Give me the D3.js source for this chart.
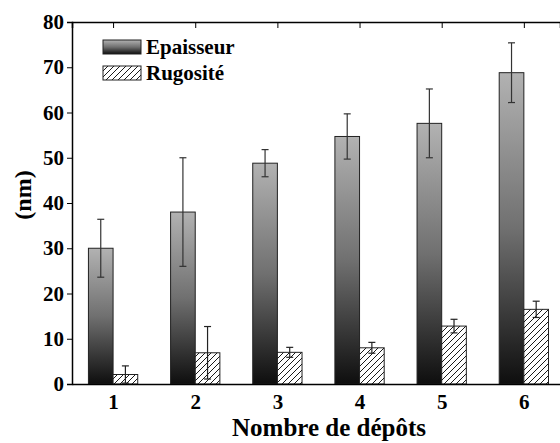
<!DOCTYPE html>
<html>
<head>
<meta charset="UTF-8">
<script src="https://d3js.org/d3.v7.min.js"></script>
<style>
  body { margin: 0; background: #fff; }
</style>
</head>
<body>
<div id="container"></div>
<script>
// data
var categories = [1, 2, 3, 4, 5, 6];
var epaisseur = [30, 38, 48.8, 54.7, 57.6, 68.8];
var epaisseurErr = [6.4, 12, 3, 5, 7.6, 6.6];
var rugosite = [2.1, 6.9, 7.0, 8.0, 12.8, 16.5];
var rugositeErr = [1.9, 5.8, 1.1, 1.2, 1.5, 1.8];
var yTicks = [0, 10, 20, 30, 40, 50, 60, 70, 80];
var seriesNames = ["Epaisseur", "Rugosité"];

var W = 560, H = 443;
var pLeft = 72, pRight = 560, pTop = 22, pBottom = 384;
var barW = 0.3; // in category units
var FONT = "'Liberation Serif', 'Times New Roman', serif";

var svg = d3.select("#container").append("svg")
  .attr("width", W).attr("height", H);

var defs = svg.append("defs");
var grad = defs.append("linearGradient").attr("id", "grey")
  .attr("x1", 0).attr("y1", 0).attr("x2", 0).attr("y2", 1);
grad.append("stop").attr("offset", "0%").attr("stop-color", "#b2b2b2");
grad.append("stop").attr("offset", "50%").attr("stop-color", "#707070");
grad.append("stop").attr("offset", "100%").attr("stop-color", "#0e0e0e");

var hatch = defs.append("pattern").attr("id", "hatch")
  .attr("patternUnits", "userSpaceOnUse")
  .attr("width", 6).attr("height", 6);
hatch.append("rect").attr("width", 6).attr("height", 6).attr("fill", "#fff");
hatch.append("path").attr("d", "M-1,7 L7,-1 M-4,4 L4,-4 M2,10 L10,2")
  .attr("stroke", "#000").attr("stroke-width", 0.9);

var x = d3.scaleLinear().domain([0.5, 6.44]).range([pLeft, pRight]);
var y = d3.scaleLinear().domain([0, 80]).range([pBottom, pTop]);

// bars
var g = svg.append("g");
g.selectAll("rect.ep").data(categories).enter().append("rect")
  .attr("class", "ep")
  .attr("x", function(d) { return x(d - barW); })
  .attr("width", function(d) { return x(d) - x(d - barW); })
  .attr("y", function(d, i) { return y(epaisseur[i]); })
  .attr("height", function(d, i) { return pBottom - y(epaisseur[i]); })
  .attr("fill", "url(#grey)").attr("stroke", "#222").attr("stroke-width", 1);

g.selectAll("rect.ru").data(categories).enter().append("rect")
  .attr("class", "ru")
  .attr("x", function(d) { return x(d); })
  .attr("width", function(d) { return x(d + barW) - x(d); })
  .attr("y", function(d, i) { return y(rugosite[i]); })
  .attr("height", function(d, i) { return pBottom - y(rugosite[i]); })
  .attr("fill", "url(#hatch)").attr("stroke", "#222").attr("stroke-width", 1);

// error bars
function errBars(vals, errs, off, col) {
  var e = svg.append("g").attr("stroke", col).attr("stroke-width", 1.2);
  categories.forEach(function(c, i) {
    var cx = x(c + off);
    e.append("line").attr("x1", cx).attr("x2", cx)
      .attr("y1", y(vals[i] + errs[i])).attr("y2", y(Math.max(0, vals[i] - errs[i])));
    [vals[i] + errs[i], vals[i] - errs[i]].forEach(function(v) {
      e.append("line").attr("x1", cx - 3.5).attr("x2", cx + 3.5)
        .attr("y1", y(v)).attr("y2", y(v));
    });
  });
}
errBars(epaisseur, epaisseurErr, -barW / 2, "#333");
errBars(rugosite, rugositeErr, barW / 2, "#222");

// axes
function styleText(a) {
  a.attr("font-family", FONT).attr("font-weight", "bold").attr("font-size", 21);
  a.select(".domain").attr("stroke-width", 1.5);
  a.selectAll("text").attr("fill", "#000");
}
svg.append("g").attr("transform", "translate(" + pLeft + ",0)")
  .call(d3.axisLeft(y).tickValues(yTicks).tickSize(5).tickPadding(3).tickFormat(d3.format("d")))
  .call(styleText);
svg.append("g").attr("transform", "translate(" + (pRight + 1.5) + ",0)")
  .call(d3.axisLeft(y).tickValues(yTicks.slice(1, -1)).tickSize(-3.5).tickFormat(""))
  .call(styleText);
svg.append("g").attr("transform", "translate(0," + pBottom + ")")
  .call(d3.axisBottom(x).tickValues(categories).tickSize(0).tickPadding(10).tickFormat(d3.format("d")))
  .call(styleText);
svg.append("g").attr("transform", "translate(0," + pTop + ")")
  .call(d3.axisTop(x).tickValues(categories).tickSize(-6).tickFormat(""))
  .call(styleText);

// axis titles
svg.append("text").attr("x", 329).attr("y", 436).attr("text-anchor", "middle")
  .attr("font-family", FONT).attr("font-weight", "bold").attr("font-size", 25)
  .text("Nombre de dépôts");
svg.append("text").attr("transform", "translate(31,195) rotate(-90)")
  .attr("text-anchor", "middle")
  .attr("font-family", FONT).attr("font-weight", "bold").attr("font-size", 24)
  .text("(nm)");

// legend
var fills = ["url(#grey)", "url(#hatch)"];
var leg = svg.append("g");
seriesNames.forEach(function(n, i) {
  var ly = 47 + i * 26;
  leg.append("rect").attr("x", 103).attr("y", ly - 7).attr("width", 38).attr("height", 14)
    .attr("fill", fills[i]).attr("stroke", "#222");
  leg.append("text").attr("x", 146).attr("y", ly + 7)
    .attr("font-family", FONT).attr("font-weight", "bold").attr("font-size", 21)
    .text(n);
});
</script>
</body>
</html>
